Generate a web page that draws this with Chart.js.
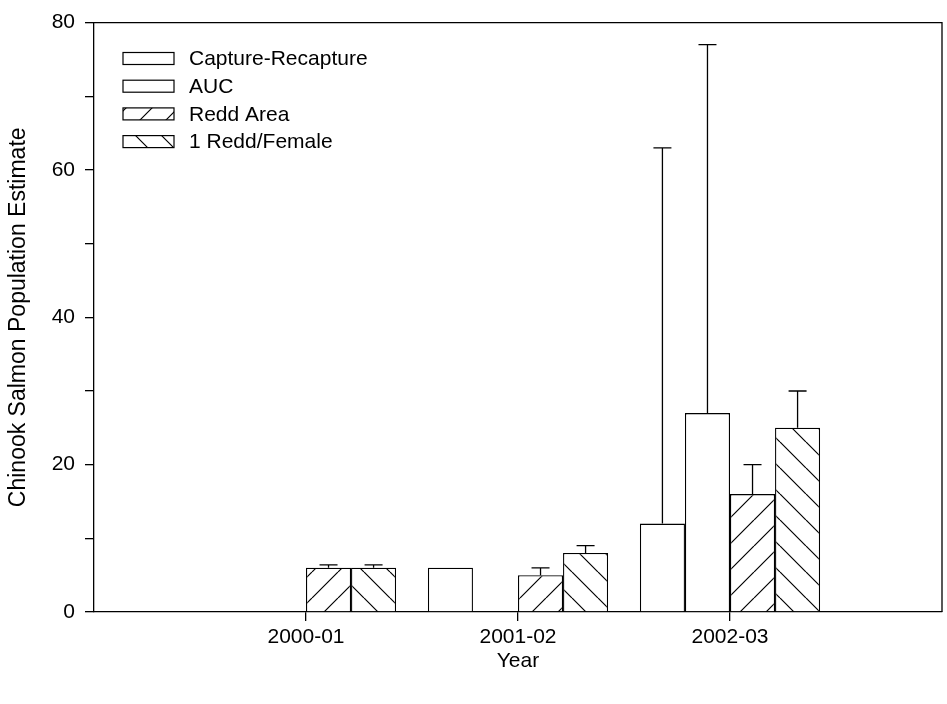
<!DOCTYPE html>
<html>
<head>
<meta charset="utf-8">
<script src="https://cdn.jsdelivr.net/npm/chart.js@4/dist/chart.umd.min.js"></script>
<style>
  html, body { margin: 0; padding: 0; background: #fff; }
  canvas { display: block; }
</style>
</head>
<body>
<canvas id="chart" width="947" height="704"></canvas>
<script>
// Survey years (blank slots pad the axis on both sides)
const years = ['', '2000-01', '2001-02', '2002-03', ''];

// Population estimates per method
const captureRecapture = [null, null, 6, 12, null];
const auc = [null, null, null, 27, null];
const reddArea = [null, 6, 5, 16, null];
const reddPerFemale = [null, 6, 8, 25, null];

// Upper confidence limits per method
const captureRecaptureUpper = [null, null, null, 63, null];
const aucUpper = [null, null, null, 77, null];
const reddAreaUpper = [null, 6.4, 6, 20, null];
const reddPerFemaleUpper = [null, 6.4, 9, 30, null];

// Labelled y ticks
const yTickLabels = [0, 20, 40, 60, 80];

const FONT = '"Liberation Sans", Arial, Helvetica, sans-serif';
const FONT_SIZE = 21;

const canvas = document.getElementById('chart');
const ctx = canvas.getContext('2d');

function hatch(dir) {
  const s = 26;
  const c = document.createElement('canvas');
  c.width = s; c.height = s;
  const g = c.getContext('2d');
  g.fillStyle = '#fff';
  g.fillRect(0, 0, s, s);
  g.strokeStyle = '#000';
  g.lineWidth = 1.2;
  g.beginPath();
  for (const k of [-s, 0, s]) {
    if (dir === '/') { g.moveTo(k, s); g.lineTo(k + s, 0); }
    else { g.moveTo(k, 0); g.lineTo(k + s, s); }
  }
  g.stroke();
  return ctx.createPattern(c, 'repeat');
}

const errorBars = {
  id: 'errorBars',
  afterDatasetsDraw(chart) {
    const c = chart.ctx;
    const yScale = chart.scales.y;
    c.save();
    c.strokeStyle = '#000';
    c.lineWidth = 1.3;
    chart.data.datasets.forEach((ds, i) => {
      const meta = chart.getDatasetMeta(i);
      (ds.upper || []).forEach((u, j) => {
        if (u == null) return;
        const bar = meta.data[j];
        const yTop = yScale.getPixelForValue(u);
        c.beginPath();
        c.moveTo(bar.x, bar.y);
        c.lineTo(bar.x, yTop);
        c.moveTo(bar.x - 9, yTop);
        c.lineTo(bar.x + 9, yTop);
        c.stroke();
      });
    });
    c.restore();
  }
};

const frame = {
  id: 'frame',
  afterDraw(chart) {
    const c = chart.ctx;
    const a = chart.chartArea;
    c.save();
    c.strokeStyle = '#000';
    c.lineWidth = 1.3;
    c.beginPath();
    c.moveTo(a.left, a.top);
    c.lineTo(a.right, a.top);
    c.lineTo(a.right, a.bottom);
    c.stroke();
    c.restore();
  }
};

const boxLegend = {
  id: 'boxLegend',
  afterDraw(chart) {
    const c = chart.ctx;
    c.save();
    c.font = FONT_SIZE + 'px ' + FONT;
    c.textBaseline = 'middle';
    c.textAlign = 'left';
    chart.data.datasets.forEach((ds, i) => {
      const cy = 58.5 + i * 27.7;
      c.fillStyle = ds.backgroundColor;
      c.fillRect(123, cy - 6, 51, 12);
      c.strokeStyle = '#000';
      c.lineWidth = 1.2;
      c.strokeRect(123, cy - 6, 51, 12);
      c.fillStyle = '#000';
      c.fillText(ds.label, 189, cy + 1);
    });
    c.restore();
  }
};

Chart.defaults.font.family = FONT;
Chart.defaults.font.size = FONT_SIZE;
Chart.defaults.color = '#000';

const barStyle = {
  borderColor: '#000',
  borderWidth: 1.3,
  categoryPercentage: 0.85,
  barPercentage: 1.0
};

new Chart(ctx, {
  type: 'bar',
  data: {
    labels: years,
    datasets: [
      Object.assign({ label: 'Capture-Recapture', data: captureRecapture, upper: captureRecaptureUpper, backgroundColor: '#fff' }, barStyle),
      Object.assign({ label: 'AUC', data: auc, upper: aucUpper, backgroundColor: '#fff' }, barStyle),
      Object.assign({ label: 'Redd Area', data: reddArea, upper: reddAreaUpper, backgroundColor: hatch('/') }, barStyle),
      Object.assign({ label: '1 Redd/Female', data: reddPerFemale, upper: reddPerFemaleUpper, backgroundColor: hatch('\\') }, barStyle)
    ]
  },
  options: {
    responsive: false,
    animation: false,
    devicePixelRatio: 1,
    layout: { padding: { top: 17, right: 5, left: 0, bottom: 0 } },
    plugins: {
      legend: { display: false },
      tooltip: { enabled: false }
    },
    scales: {
      x: {
        offset: false,
        grid: {
          offset: false,
          drawOnChartArea: false,
          drawTicks: true,
          tickLength: 9,
          lineWidth: 1.3,
          color: (c) => (c.index === 0 || c.index === years.length - 1) ? 'rgba(0,0,0,0)' : '#000'
        },
        border: { display: true, color: '#000', width: 1.3 },
        ticks: { autoSkip: false, maxRotation: 0, padding: 4, color: '#000' },
        title: { display: true, text: 'Year', color: '#000', padding: { top: 0, bottom: 30 } },
        afterFit: (s) => { s.height = 92; }
      },
      y: {
        min: 0,
        max: 80,
        grid: {
          drawOnChartArea: false,
          drawTicks: true,
          tickLength: 9,
          lineWidth: 1.3,
          color: '#000'
        },
        border: { display: true, color: '#000', width: 1.3 },
        ticks: {
          stepSize: 10,
          autoSkip: false,
          padding: 10,
          color: '#000',
          callback: (v) => yTickLabels.includes(v) ? String(v) : ''
        },
        title: {
          display: true,
          text: 'Chinook Salmon Population Estimate',
          color: '#000',
          font: { size: 23 },
          padding: { top: 5, bottom: 0 }
        },
        afterFit: (s) => { s.width = 94; }
      }
    }
  },
  plugins: [errorBars, frame, boxLegend]
});
</script>
</body>
</html>
